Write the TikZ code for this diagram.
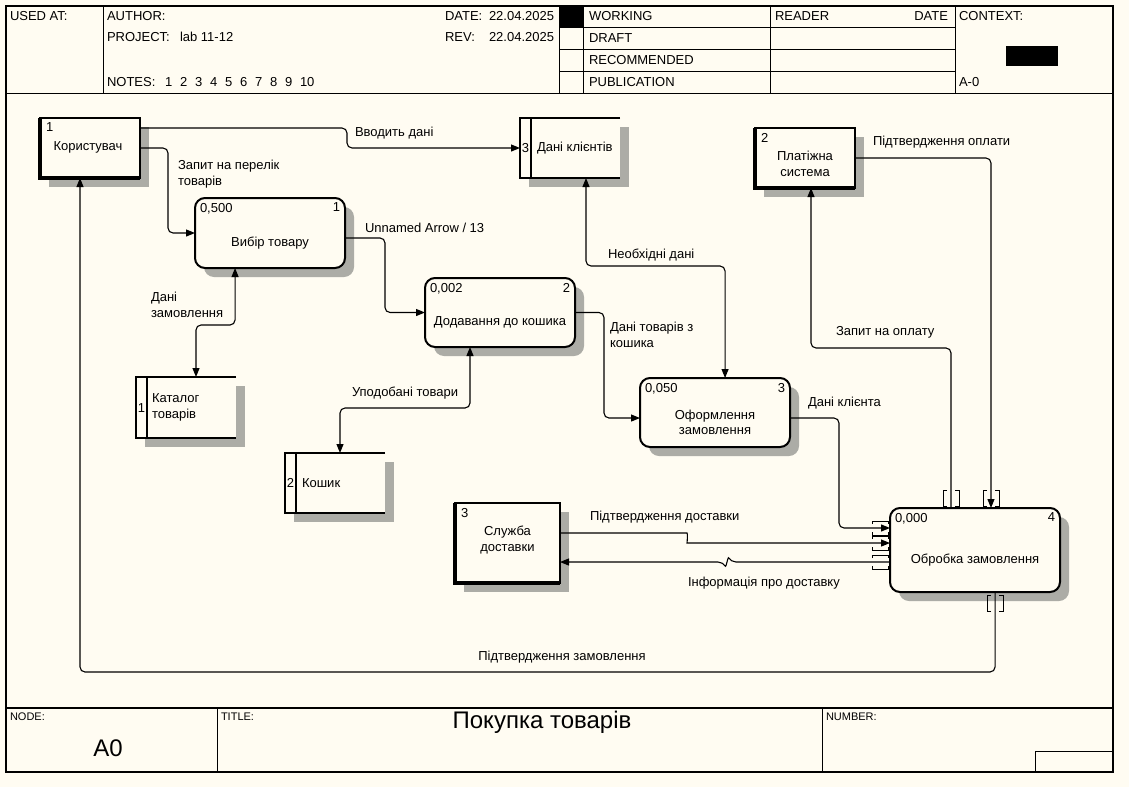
\documentclass[tikz,border=0pt]{standalone}
\usepackage{fontspec}
\setmainfont{Liberation Sans}
\usetikzlibrary{arrows.meta,calc,backgrounds}

\definecolor{paper}{RGB}{255,252,242}
\definecolor{shadegray}{RGB}{172,172,166}

\tikzset{
  every node/.style={inner sep=0pt, outer sep=0pt, font=\fontsize{13}{15.5}\selectfont},
  small/.style={font=\fontsize{11}{13}\selectfont},
  big/.style={font=\fontsize{24}{28}\selectfont},
  frameline/.style={line width=1pt},
  process/.style={draw, line width=2pt, rounded corners=10pt, fill=paper},
  extent/.style={draw, line width=2.5pt, fill=paper},
  storebox/.style={fill=paper},
  storeline/.style={line width=2pt},
  boxshade/.style={fill=shadegray},
  flowtip/.tip={Triangle[length=9pt,width=7pt]},
  flow/.style={line width=1.1pt, rounded corners=5pt, -flowtip},
  twoway/.style={line width=1.1pt, rounded corners=5pt, flowtip-flowtip},
  tunv/.pic={\draw[line width=0.9pt] (-4,-8) -- (-8,-8) -- (-8,8) -- (-4,8) (4,-8) -- (8,-8) -- (8,8) -- (4,8);},
  tunh/.pic={\draw[line width=0.9pt] (-8,-4) -- (-8,-7) -- (8,-7) -- (8,-4) (-8,4) -- (-8,7) -- (8,7) -- (8,4);},
}

\begin{document}
\begin{tikzpicture}[x=1pt,y=1pt,yscale=-1]
\useasboundingbox (0,0) rectangle (1129,787);

%Shape: Frame
\draw[line width=1.5pt] (6,6) rectangle (1113,772);
\draw[frameline] (6,93) -- (1113,93);
\draw[line width=1.5pt] (6,708) -- (1113,708);
\foreach \x in {103,559,583,770,955} \draw[frameline] (\x,6) -- (\x,93);
\foreach \y in {27,49,71} \draw[frameline] (559,\y) -- (955,\y);
\fill (559,6) rectangle (583,27);
\fill (1006,46) rectangle (1058,66);
\foreach \x in {217,822} \draw[frameline] (\x,708) -- (\x,772);
\draw[frameline] (1035,772) |- (1113,751);

% Text Node
\node (usedat) [anchor=west] at (10,16) {USED AT:};
\node (author) [anchor=west] at (107,16) {AUTHOR:};
\node (project) [anchor=west] at (107,37) {PROJECT:};
\node (projname) [anchor=west] at (180,37) {lab 11-12};
\node (notes) [anchor=west] at (107,82) {NOTES:};
\foreach \n in {1,...,10} \node (note\n) [anchor=west] at (150+15*\n,82) {\n};
\node (date) [anchor=west] at (445,16) {DATE:};
\node (dateval) [anchor=west] at (489,16) {22.04.2025};
\node (rev) [anchor=west] at (445,37) {REV:};
\node (revval) [anchor=west] at (489,37) {22.04.2025};
\node (working) [anchor=west] at (589,16) {WORKING};
\node (draft) [anchor=west] at (589,38) {DRAFT};
\node (recommended) [anchor=west] at (589,60) {RECOMMENDED};
\node (publication) [anchor=west] at (589,82) {PUBLICATION};
\node (reader) [anchor=west] at (775,16) {READER};
\node (readerdate) [anchor=east] at (948,16) {DATE};
\node (context) [anchor=west] at (959,16) {CONTEXT:};
\node (contextnode) [anchor=west] at (959,82) {A-0};

% Text Node
\node (nodelbl) [anchor=west, small] at (10,717) {NODE:};
\node (nodeval) [big] at (108,748) {A0};
\node (titlelbl) [anchor=west, small] at (221,717) {TITLE:};
\node (titleval) [big] at (542,722) {Покупка товарів};
\node (numlbl) [anchor=west, small] at (826,717) {NUMBER:};

%Shape: External
\node (user) [extent, minimum width=100pt, minimum height=60pt] at (90,148) {};
\node (pay) [extent, minimum width=100pt, minimum height=60pt] at (805,158) {};
\node (del) [extent, minimum width=105pt, minimum height=80pt] at (507.5,543) {};
\foreach \e in {user,pay,del} \draw[line width=3.5pt] (\e.north west) -- (\e.south west) -- (\e.south east);

%Shape: Data store
\node (cat) [storebox, minimum width=100pt, minimum height=61pt] at (186,407.5) {};
\node (cart) [storebox, minimum width=100pt, minimum height=60pt] at (335,483) {};
\node (cli) [storebox, minimum width=100pt, minimum height=60pt] at (570,148) {};
\foreach \s in {cat,cart,cli} {
  \draw[storeline] (\s.north east) -- (\s.north west) -- (\s.south west) -- (\s.south east);
  \draw[storeline] ($(\s.north west)+(11,0)$) -- ($(\s.south west)+(11,0)$);
}

%Shape: Process
\node (sel) [process, minimum width=150pt, minimum height=70pt] at (270,233) {};
\node (add) [process, minimum width=150pt, minimum height=69pt] at (500,312.5) {};
\node (ord) [process, minimum width=150pt, minimum height=69pt] at (715,412.5) {};
\node (proc) [process, minimum width=170pt, minimum height=84pt] at (975,550) {};

%Shape: Shadows
\begin{scope}[on background layer]
\fill[paper] (0,0) rectangle (1129,787);
\foreach \b in {user,pay,del,cat,cart,cli}
  \fill[boxshade] ($(\b.north west)+(9,9)$) rectangle ($(\b.south east)+(9,9)$);
\foreach \b in {sel,add,ord,proc}
  \fill[boxshade, rounded corners=10pt] ($(\b.north west)+(9,9)$) rectangle ($(\b.south east)+(9,9)$);
\end{scope}

% Text Node
\node (user-n) [anchor=north west] at ($(user.north west)+(6,5)$) {1};
\node (user-t) at ($(user.center)+(-2,-1)$) {Користувач};
\node (pay-n) [anchor=north west] at ($(pay.north west)+(6,5)$) {2};
\node (pay-t) [align=center] at ($(pay.center)+(0,6)$) {Платіжна\\система};
\node (del-n) [anchor=north west] at ($(del.north west)+(6,5)$) {3};
\node (del-t) [align=center] at ($(del.center)+(0,-3)$) {Служба\\доставки};
\node (cat-n) at ($(cat.west)+(5.5,1)$) {1};
\node (cat-t) [anchor=west, align=left] at ($(cat.west)+(16,0)$) {Каталог\\товарів};
\node (cart-n) at ($(cart.west)+(5.5,0)$) {2};
\node (cart-t) [anchor=west] at ($(cart.west)+(17,0)$) {Кошик};
\node (cli-n) at ($(cli.west)+(5.5,0)$) {3};
\node (cli-t) [anchor=west] at ($(cli.west)+(17,0)$) {Дані клієнтів};
\node (sel-c) [anchor=north west] at ($(sel.north west)+(5,5)$) {0,500};
\node (sel-n) [anchor=north east] at ($(sel.north east)+(-5,5)$) {1};
\node (sel-t) at ($(sel.center)+(0,10)$) {Вибір товару};
\node (add-c) [anchor=north west] at ($(add.north west)+(5,5)$) {0,002};
\node (add-n) [anchor=north east] at ($(add.north east)+(-5,5)$) {2};
\node (add-t) at ($(add.center)+(0,10)$) {Додавання до кошика};
\node (ord-c) [anchor=north west] at ($(ord.north west)+(5,5)$) {0,050};
\node (ord-n) [anchor=north east] at ($(ord.north east)+(-5,5)$) {3};
\node (ord-t) [align=center] at ($(ord.center)+(0,10)$) {Оформлення\\замовлення};
\node (proc-c) [anchor=north west] at ($(proc.north west)+(5,5)$) {0,000};
\node (proc-n) [anchor=north east] at ($(proc.north east)+(-5,5)$) {4};
\node (proc-t) at ($(proc.center)+(0,10)$) {Обробка замовлення};

%Ports
\coordinate (user-o) at ($(user.north east)!0.167!(user.south east)$);
\coordinate (user-s) at ($(user.south west)!0.4!(user.south east)$);
\coordinate (sel-o) at ($(sel.north east)!0.571!(sel.south east)$);
\coordinate (sel-s) at ($(sel.south west)!0.267!(sel.south east)$);
\coordinate (cat-p) at ($(cat.north west)!0.6!(cat.north east)$);
\coordinate (add-s) at ($(add.south west)!0.3!(add.south east)$);
\coordinate (cart-p) at ($(cart.north west)!0.55!(cart.north east)$);
\coordinate (cli-s) at ($(cli.south west)!0.66!(cli.south east)$);
\coordinate (ord-w) at ($(ord.north west)!0.58!(ord.south west)$);
\coordinate (ord-e) at ($(ord.north east)!0.58!(ord.south east)$);
\coordinate (ord-p) at ($(ord.north west)!0.567!(ord.north east)$);
\coordinate (pay-s) at ($(pay.south west)!0.56!(pay.south east)$);
\coordinate (del-e1) at ($(del.north east)!0.375!(del.south east)$);
\coordinate (proc-n1) at ($(proc.north west)!0.359!(proc.north east)$);
\coordinate (proc-n2) at ($(proc.north west)!0.594!(proc.north east)$);
\coordinate (proc-s) at ($(proc.south west)!0.618!(proc.south east)$);
\coordinate (proc-w1) at ($(proc.north west)!0.238!(proc.south west)$);
\coordinate (proc-w2) at ($(proc.north west)!0.417!(proc.south west)$);
\coordinate (proc-w3) at ($(proc.north west)!0.643!(proc.south west)$);

%Straight Lines
\draw[flow] (user-o) -- (user-o -| 347,0) |- (cli.west);
\draw[flow] (user.east) -- (user.east -| 168,0) |- (sel.west);
\draw[flow] (sel-o) -- (sel-o -| 385,0) |- (add.west);
\draw[twoway] (sel-s) -- (sel-s |- 0,325) -| (cat-p);
\draw[twoway] (add-s) -- (add-s |- 0,408) -| (cart-p);
\draw[flow] (add.east) -- (add.east -| 604,0) |- (ord-w);
\draw[twoway] (cli-s) -- (cli-s |- 0,266) -| (ord-p);
\draw[flow] (ord-e) -- (ord-e -| 839,0) |- (proc-w1);
\draw[flow] (pay.east) -| (proc-n2);
\draw[flow] (proc-n1) -- (proc-n1 |- 0,348) -| (pay-s);
\draw[flow] (proc-s) -- (proc-s |- 0,672) -| (user-s);
\draw[flow] (del-e1) -- (del-e1 -| 682,0) .. controls +(6,0) and +(-5,0) .. (proc-w2 -| 692,0) -- (proc-w2);
\draw[flow] (proc-w3) -- (proc-w3 -| 731,0) .. controls +(-3,-5) and +(3,5) .. (proc-w3 -| 723,0) -- (proc-w3 -| del.east);

%Tunnels
\pic at ($(proc-n1)+(0,-10)$) {tunv};
\pic at ($(proc-n2)+(0,-10)$) {tunv};
\pic at ($(proc-s)+(0,11)$) {tunv};
\foreach \p in {proc-w1,proc-w2,proc-w3} \pic at ($(\p)+(-10,0)$) {tunh};

% Text Node
\node (l-enter) [anchor=west] at (355,133) {Вводить дані};
\node (l-list) [anchor=west, align=left] at (178,174) {Запит на перелік\\товарів};
\node (l-unnamed) [anchor=west] at (365,228) {Unnamed Arrow / 13};
\node (l-order) [anchor=west, align=left] at (151,305) {Дані\\замовлення};
\node (l-liked) [anchor=west] at (352,393) {Уподобані товари};
\node (l-cartdata) [anchor=west, align=left] at (610,335) {Дані товарів з\\кошика};
\node (l-need) [anchor=west] at (608,255) {Необхідні дані};
\node (l-client) [anchor=west] at (808,403) {Дані клієнта};
\node (l-paid) [anchor=west] at (873,142) {Підтвердження оплати};
\node (l-payreq) [anchor=west] at (836,332) {Запит на оплату};
\node (l-ship) [anchor=west] at (590,517) {Підтвердження доставки};
\node (l-info) [anchor=west] at (688,583) {Інформація про доставку};
\node (l-confirm) at (562,657) {Підтвердження замовлення};

\end{tikzpicture}
\end{document}
